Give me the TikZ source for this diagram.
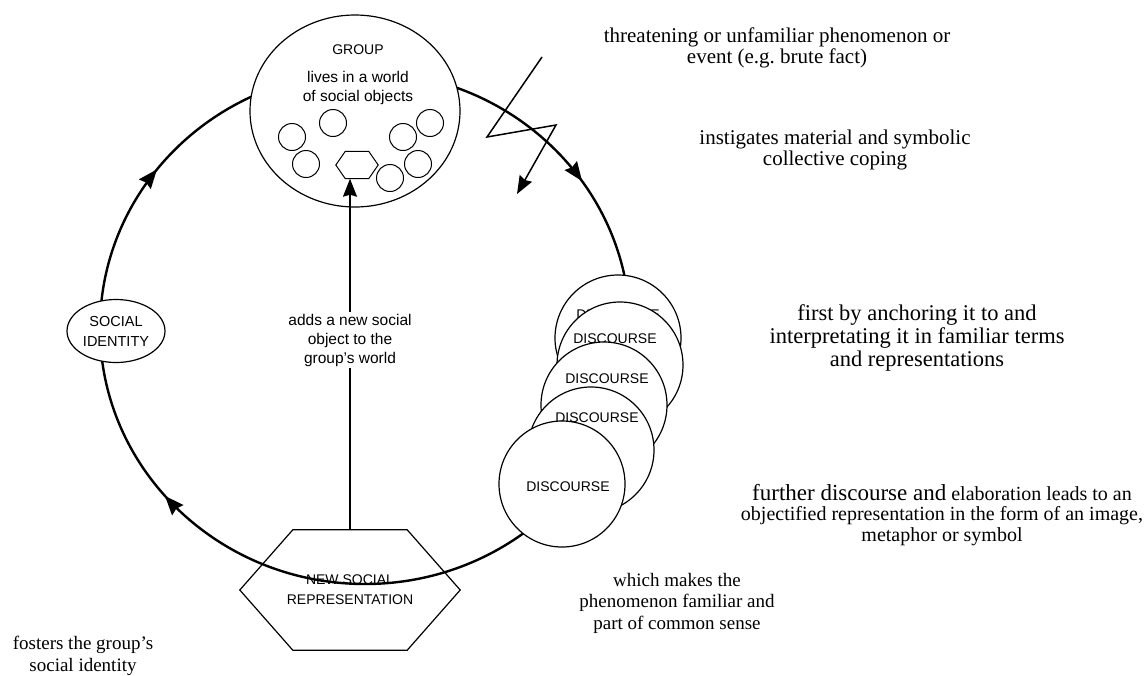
\documentclass[tikz,border=0pt]{standalone}
\usepackage{fontspec}
\setmainfont{Liberation Serif}
\setsansfont{Liberation Sans}
\usetikzlibrary{shapes.geometric}
\usetikzlibrary{arrows.meta}
\usetikzlibrary{decorations.markings}
\tikzset{
	cyclestyle/.style={line width=2.4pt, postaction={decorate}, decoration={markings,
		mark=at position 0.3875 with {\arrow{Stealth[length=19pt,width=15pt,inset=2pt]}},
		mark=at position 0.605 with {\arrow{Stealth[length=19pt,width=15pt,inset=2pt]}},
		mark=at position 0.904 with {\arrow{Stealth[length=19pt,width=15pt,inset=2pt]}}}},
	groupstyle/.style={ellipse, draw=black, fill=white, line width=1.2pt, minimum width=210pt, minimum height=192pt},
	identitystyle/.style={ellipse, draw=black, fill=white, line width=1.2pt, minimum width=98pt, minimum height=63pt, inner sep=0pt, font=\sffamily\fontsize{14.5}{20}\selectfont, align=center},
	discstyle/.style={circle, draw=black, fill=white, line width=1.2pt, minimum size=126pt},
	objstyle/.style={circle, draw=black, fill=white, line width=1pt, minimum size=27pt, inner sep=0pt},
	capsstyle/.style={font=\sffamily\fontsize{14}{20}\selectfont, align=center, inner sep=0pt},
	sansstyle/.style={font=\sffamily\fontsize{15.5}{19}\selectfont, align=center, inner sep=0pt},
	notestyle/.style={font=\fontsize{21}{21.5}\selectfont, align=center, inner sep=0pt},
	smallnotestyle/.style={font=\fontsize{19}{21.5}\selectfont, align=center, inner sep=0pt}
}

\begin{document}
\begin{tikzpicture}[x=1pt, y=-1pt]
	\useasboundingbox (0,0) rectangle (1148,675);
	% the cycle
	\draw[cyclestyle] (630,328) arc[start angle=360, end angle=0, x radius=265pt, y radius=256pt];
	% group and its social objects
	\node[groupstyle] (group) at (355,111) {};
	\node[capsstyle] (grouptitle) at (358,50) {GROUP};
	\node[sansstyle] (grouptext) at (358,88) {lives in a world\\of social objects};
	\node[objstyle] (obja) at (292,137) {};
	\node[objstyle] (objb) at (333,123) {};
	\node[objstyle] (objc) at (306,164) {};
	\node[objstyle] (objd) at (403,137) {};
	\node[objstyle] (obje) at (430,123) {};
	\node[objstyle] (objf) at (418,164) {};
	\node[objstyle] (objg) at (390,178) {};
	\node[minimum width=42pt, minimum height=27pt, inner sep=0pt] (newobj) at (357,165) {};
	\draw[line width=1pt, fill=white] (newobj.west) -- ([xshift=9.5pt]newobj.north west) -- ([xshift=-9.5pt]newobj.north east)
		-- (newobj.east) -- ([xshift=-9.5pt]newobj.south east) -- ([xshift=9.5pt]newobj.south west) -- cycle;
	% social identity
	\node[identitystyle] (identity) at (116,331) {SOCIAL\\IDENTITY};
	% discourse stack
	\node[discstyle] (disca) at (618,338) {};
	\node[capsstyle] (labela) at (618,315) {DISCOURSE};
	\node[discstyle] (discb) at (620,365) {};
	\node[capsstyle] (labelb) at (615,339) {DISCOURSE};
	\node[discstyle] (discc) at (604,405) {};
	\node[capsstyle] (labelc) at (607,379) {DISCOURSE};
	\node[discstyle] (discd) at (591,450) {};
	\node[capsstyle] (labeld) at (597,418) {DISCOURSE};
	\node[discstyle] (disce) at (562,484) {};
	\node[capsstyle] (labele) at (568,487) {DISCOURSE};
	% new social representation
	\node[capsstyle, minimum width=220pt, minimum height=120pt] (newrep) at (350,590) {NEW SOCIAL\\REPRESENTATION};
	\draw[line width=1.2pt] (newrep.west) -- ([xshift=53pt]newrep.north west) -- ([xshift=-53pt]newrep.north east)
		-- (newrep.east) -- ([xshift=-53pt]newrep.south east) -- ([xshift=53pt]newrep.south west) -- cycle;
	\draw[line width=1.3pt, -{Stealth[length=18pt,width=14pt,inset=2pt]}] (newrep.north) -- node[sansstyle, pos=0.54, fill=white, inner sep=2pt] {adds a new social\\object to the\\group's world} (newrep.north |- newobj.south);
	% the brute fact
	\coordinate (boltstart) at (542,57);
	\coordinate (boltleft) at (487,137);
	\coordinate (boltright) at (556,125);
	\coordinate (boltend) at (517,194);
	\draw[line width=1.5pt, -{Stealth[length=18pt,width=14pt,inset=2pt]}] (boltstart) -- (boltleft) -- (boltright) -- (boltend);
	% notes
	\node[notestyle] (threat) at (777,48) {threatening or unfamiliar phenomenon or\\event (e.g.\ brute fact)};
	\node[notestyle] (coping) at (835,150) {instigates material and symbolic\\collective coping};
	\node[notestyle, font=\fontsize{22.5}{23}\selectfont] (anchor) at (917,338) {first by anchoring it to and\\interpretating it in familiar terms\\and representations};
	\node[smallnotestyle, font=\fontsize{20}{20.5}\selectfont] (objectify) at (942,515) {{\fontsize{23}{20.5}\selectfont further discourse and} elaboration leads to an\\objectified representation in the form of an image,\\metaphor or symbol};
	\node[smallnotestyle] (familiar) at (677,603) {which makes the\\phenomenon familiar and\\part of common sense};
	\node[smallnotestyle] (fosters) at (83,656) {fosters the group's\\social identity};
\end{tikzpicture}
\end{document}
